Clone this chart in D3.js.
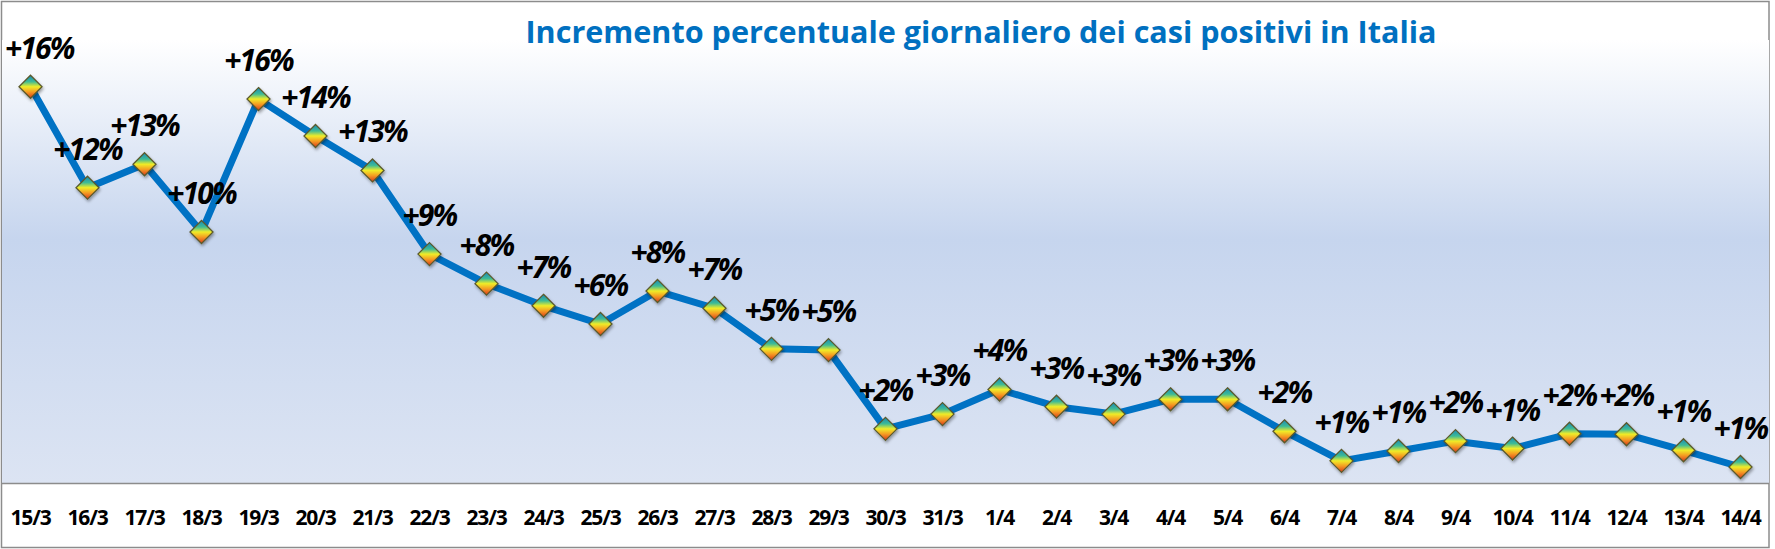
<!DOCTYPE html>
<html>
<head>
<meta charset="utf-8">
<script src="https://cdn.jsdelivr.net/npm/d3@7"></script>
<style>
  body { margin: 0; background: #fff; }
  svg { display: block; }
</style>
</head>
<body>
<div id="chart"></div>
<script>
// giorni e incremento % dei casi positivi
const giorni = ["15/3", "16/3", "17/3", "18/3", "19/3", "20/3", "21/3", "22/3", "23/3", "24/3",
  "25/3", "26/3", "27/3", "28/3", "29/3", "30/3", "31/3", "1/4", "2/4", "3/4", "4/4", "5/4",
  "6/4", "7/4", "8/4", "9/4", "10/4", "11/4", "12/4", "13/4", "14/4"];
const incrementi = [16.1, 12.0, 12.95, 10.2, 15.6, 14.1, 12.7, 9.3, 8.1, 7.2,
  6.46, 7.8, 7.1, 5.45, 5.4, 2.2, 2.8, 3.8, 3.1, 2.8, 3.4, 3.4,
  2.1, 0.9, 1.3, 1.7, 1.4, 2.0, 1.98, 1.33, 0.65];
const yDominio = [0, 18];
const titolo = "Incremento percentuale giornaliero dei casi positivi in Italia";

const width = 1775, height = 549;
const plot = { left: 2, right: 1769, top: 40, bottom: 483 };

const svg = d3.select("#chart").append("svg")
  .attr("width", width)
  .attr("height", height);

const defs = svg.append("defs");

// sfondo area del grafico
const bg = defs.append("linearGradient").attr("id", "bg")
  .attr("x1", 0).attr("y1", 0).attr("x2", 0).attr("y2", 1);
bg.append("stop").attr("offset", "0%").attr("stop-color", "#ffffff");
bg.append("stop").attr("offset", "45%").attr("stop-color", "#c6d5ee");
bg.append("stop").attr("offset", "100%").attr("stop-color", "#dce4f3");

// colori del marcatore
const mk = defs.append("linearGradient").attr("id", "mk")
  .attr("x1", 0).attr("y1", 0).attr("x2", 0).attr("y2", 1);
[["0%", "#1a88b8"], ["28%", "#3dbb96"], ["50%", "#f0ec28"], ["72%", "#f59e22"], ["100%", "#d9361c"]]
  .forEach(s => mk.append("stop").attr("offset", s[0]).attr("stop-color", s[1]));

const ombra = defs.append("filter").attr("id", "ombra")
  .attr("x", "-50%").attr("y", "-50%").attr("width", "200%").attr("height", "200%");
ombra.append("feDropShadow").attr("dx", 1).attr("dy", 2)
  .attr("stdDeviation", 1.5).attr("flood-color", "#000").attr("flood-opacity", 0.35);

// cornice esterna
svg.append("rect")
  .attr("x", 1.5).attr("y", 1.5)
  .attr("width", plot.right - 1.5).attr("height", height - 3)
  .attr("fill", "#fff").attr("stroke", "#8c8c8c").attr("stroke-width", 1.5);

svg.append("rect")
  .attr("x", plot.left).attr("y", plot.top)
  .attr("width", plot.right - plot.left).attr("height", plot.bottom - plot.top)
  .attr("fill", "url(#bg)");

svg.append("line")
  .attr("x1", plot.left).attr("x2", plot.right)
  .attr("y1", plot.bottom + 0.5).attr("y2", plot.bottom + 0.5)
  .attr("stroke", "#8c8c8c").attr("stroke-width", 1.5);

const x = d3.scaleBand().domain(giorni).range([plot.left, plot.right]);
const y = d3.scaleLinear().domain(yDominio).range([plot.bottom, plot.top]);
const cx = d => x(d) + x.bandwidth() / 2;

const dati = giorni.map((g, i) => ({ g: g, v: incrementi[i] }));

// asse x
const xAxis = d3.axisBottom(x).tickSize(0).tickPadding(0);
const gx = svg.append("g")
  .attr("transform", "translate(0," + plot.bottom + ")")
  .call(xAxis);
gx.select(".domain").remove();
gx.selectAll("text")
  .attr("dy", null)
  .attr("y", 42)
  .style("font-family", "'Open Sans', sans-serif")
  .style("font-weight", "bold")
  .style("font-size", "21px")
  .style("letter-spacing", "-1.2px")
  .attr("fill", "#000");

// linea
const linea = d3.line().x(d => cx(d.g)).y(d => y(d.v));
svg.append("path")
  .datum(dati)
  .attr("d", linea)
  .attr("fill", "none")
  .attr("stroke", "#0072c4")
  .attr("stroke-width", 7)
  .attr("stroke-linejoin", "round");

// marcatori a rombo
const r = 11.5;
svg.append("g").selectAll("path")
  .data(dati)
  .join("path")
  .attr("d", d => {
    const px = cx(d.g), py = y(d.v);
    return "M" + px + "," + (py - r) + "L" + (px + r) + "," + py +
      "L" + px + "," + (py + r) + "L" + (px - r) + "," + py + "Z";
  })
  .attr("fill", "url(#mk)")
  .attr("stroke", "#5b5a2c")
  .attr("stroke-width", 1.3)
  .attr("filter", "url(#ombra)");

// etichette
const etichette = svg.append("g").selectAll("text")
  .data(dati)
  .join("text")
  .attr("text-anchor", "middle")
  .attr("x", d => cx(d.g))
  .attr("y", d => y(d.v) - 28)
  .style("font-family", "'Open Sans', sans-serif")
  .style("font-weight", "bold")
  .style("font-style", "italic")
  .style("font-size", "30px")
  .style("letter-spacing", "-1.8px")
  .attr("fill", "#000")
  .text(d => "+" + Math.round(d.v) + "%");

etichette.each(function () {
  const el = d3.select(this);
  const w = this.getComputedTextLength();
  const px = +el.attr("x");
  if (px - w / 2 < 5) el.attr("x", 5 + w / 2);
});

// titolo
svg.append("text")
  .attr("x", 981)
  .attr("y", 43)
  .attr("text-anchor", "middle")
  .attr("textLength", 911)
  .attr("lengthAdjust", "spacingAndGlyphs")
  .style("font-family", "'Open Sans', sans-serif")
  .style("font-weight", "bold")
  .style("font-size", "31px")
  .attr("fill", "#0070c0")
  .text(titolo);
</script>
</body>
</html>
